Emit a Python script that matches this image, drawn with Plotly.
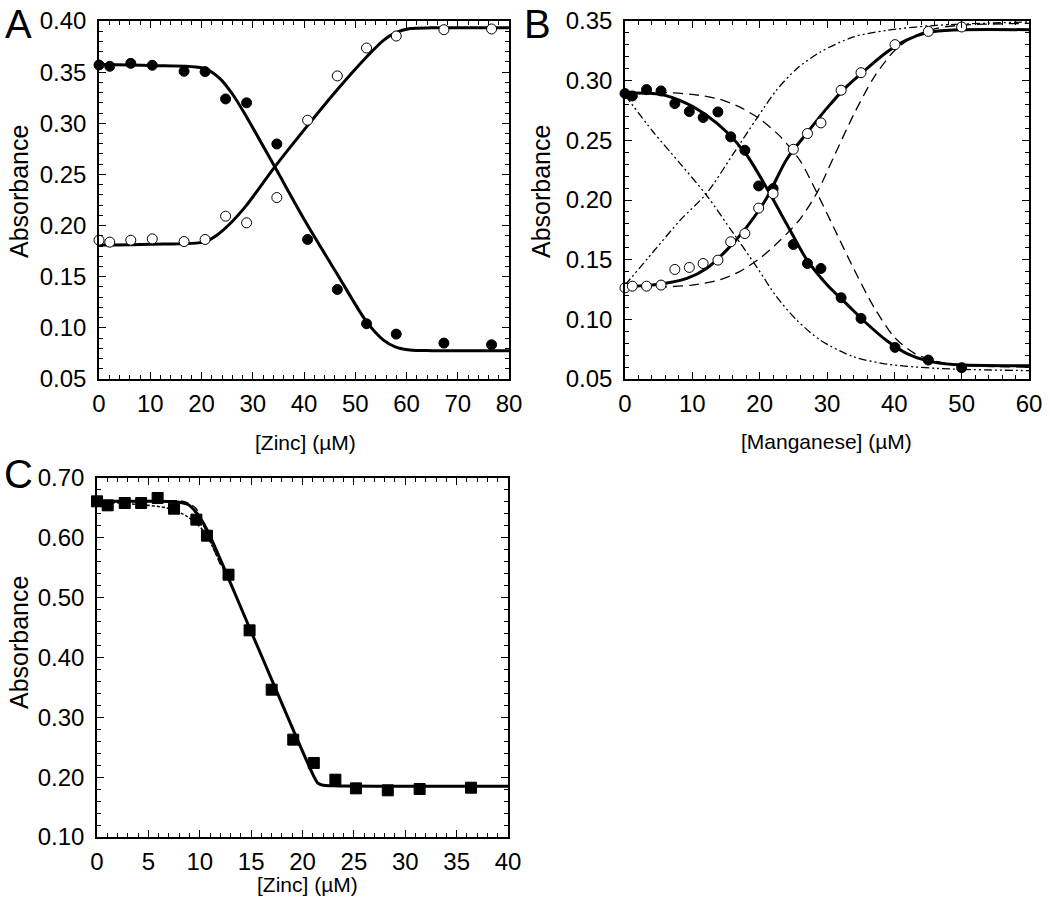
import plotly.graph_objects as go

# ---------------- Panel A : Zinc ----------------
a_x = [0, 2.1, 6.2, 10.4, 16.6, 20.7, 24.7, 28.8, 34.7, 40.7, 46.5, 52.2, 58.0, 67.3, 76.6]
a_filled = [0.357, 0.3557, 0.3586, 0.3567, 0.3508, 0.3505, 0.3238, 0.320, 0.2798, 0.1864,
            0.1375, 0.104, 0.0939, 0.0851, 0.0835]
a_open = [0.1857, 0.1838, 0.1857, 0.187, 0.1844, 0.1864, 0.2092, 0.2027, 0.2274, 0.303,
          0.3463, 0.3736, 0.3853, 0.3915, 0.3922]
a_fit_x = [0, 10, 20.7, 23.6, 26.2, 28.8, 34.3, 40.5, 46.4, 52.2, 55.5, 57.8, 60.7, 65, 80]
a_fit_down = [0.3574, 0.3565, 0.3535, 0.3437, 0.3274, 0.3062, 0.2574, 0.202, 0.1532, 0.106,
              0.088, 0.0815, 0.0783, 0.0777, 0.0776]
a_fit_up_x = [0, 10, 20.7, 23.0, 25.6, 28.8, 34.3, 40.5, 46.4, 52.2, 55.5, 57.8, 60.7, 65, 80]
a_fit_up = [0.1809, 0.1818, 0.1841, 0.1906, 0.202, 0.22, 0.2574, 0.2965, 0.3323, 0.3648,
            0.3811, 0.3883, 0.3926, 0.3933, 0.3935]

# ---------------- Panel B : Manganese ----------------
b_x = [0, 1.09, 3.2, 5.35, 7.4, 9.55, 11.6, 13.8, 15.7, 17.8, 19.85, 22.0, 25.0, 27.1, 29.1,
       32.1, 35.05, 40.1, 45.05, 50.0]
b_filled = [0.2892, 0.2872, 0.2925, 0.2914, 0.2808, 0.2741, 0.2691, 0.2738, 0.2529, 0.2417,
            0.2118, 0.2096, 0.1627, 0.1468, 0.1426, 0.1181, 0.1008, 0.0765, 0.0659, 0.0595]
b_open = [0.1264, 0.1278, 0.1278, 0.1287, 0.1418, 0.1435, 0.1468, 0.1496, 0.165, 0.1719,
          0.1932, 0.2054, 0.2425, 0.2557, 0.2646, 0.292, 0.3067, 0.3302, 0.3413, 0.345]
b_fit_x = [0, 5.2, 9.2, 12.1, 15.1, 18.1, 21.0, 24.0, 27.0, 30.0, 32.9, 35.9, 38.9, 41.8,
           45.05, 48.8, 60]
b_fit_down = [0.2897, 0.2886, 0.2808, 0.271, 0.257, 0.2375, 0.2105, 0.1800, 0.1500, 0.1290,
              0.1130, 0.0965, 0.0820, 0.0715, 0.0650, 0.0622, 0.0611]
b_fit_up = [0.1273, 0.1295, 0.1343, 0.1426, 0.158, 0.1775, 0.2012, 0.2340, 0.2560, 0.2770,
            0.2950, 0.3100, 0.3240, 0.3340, 0.3405, 0.3425, 0.3427]
b_dash_x = [0, 5, 10, 14, 17, 20, 23, 26, 28.5, 31, 34, 37, 40, 43, 46, 50, 60]
b_dash_down = [0.2906, 0.2903, 0.2885, 0.2845, 0.278, 0.268, 0.2535, 0.233, 0.206, 0.177,
               0.142, 0.110, 0.085, 0.0715, 0.065, 0.0615, 0.0600]
b_dash_up = [0.1267, 0.1270, 0.1287, 0.133, 0.140, 0.151, 0.166, 0.184, 0.206, 0.236,
             0.272, 0.303, 0.325, 0.3375, 0.3435, 0.3465, 0.3480]
b_dd_x = [0, 4.2, 8.2, 12.1, 16.1, 19.55, 22.5, 25.5, 29.0, 33.9, 38.9, 46.3, 60]
b_dd_up = [0.1287, 0.1566, 0.1831, 0.2054, 0.2389, 0.2682, 0.292, 0.31, 0.324, 0.3366,
           0.3422, 0.3464, 0.3492]
b_dd_down = [0.2878, 0.257, 0.2305, 0.204, 0.172, 0.144, 0.119, 0.0994, 0.0826, 0.0687,
             0.0625, 0.0589, 0.0570]

# ---------------- Panel C : Zinc ----------------
c_x = [0, 1.04, 2.7, 4.3, 5.9, 7.5, 9.67, 10.7, 12.8, 14.85, 17.0, 19.1, 21.1, 23.2, 25.2,
       28.3, 31.4, 36.4]
c_y = [0.661, 0.6543, 0.6582, 0.6582, 0.6666, 0.6487, 0.6304, 0.6036, 0.5384, 0.4454, 0.3462,
       0.2627, 0.2237, 0.1958, 0.1813, 0.178, 0.1802, 0.1824]
c_fit_x = [0, 5, 7.8, 8.9, 9.7, 10.7, 15.0, 21.1, 21.5, 21.9, 23, 30, 40]
c_fit_y = [0.661, 0.661, 0.6599, 0.6554, 0.6415, 0.6136, 0.4434, 0.2014, 0.1900, 0.1870,
           0.1855, 0.1850, 0.1850]
c_dot_x = [0, 2, 4.2, 6.8, 8.75, 10.4, 12.0, 13.0]
c_dot_y = [0.661, 0.6585, 0.6554, 0.6499, 0.636, 0.611, 0.558, 0.5245]
c_dash_x = [0, 5, 8.4, 9.6, 10.4, 12.0]
c_dash_y = [0.661, 0.661, 0.661, 0.6499, 0.6192, 0.5555]

W, H = 1050, 899
FONT = "Arial, Liberation Sans, sans-serif"


def dom_x(p0, p1):
    return [p0 / W, p1 / W]


def dom_y(p_top, p_bot):
    return [1 - p_bot / H, 1 - p_top / H]


fig = go.Figure()


def add_line(x, y, xa, ya, dash="solid", width=3):
    fig.add_trace(go.Scatter(x=x, y=y, mode="lines", xaxis=xa, yaxis=ya,
                             line=dict(color="black", width=width, dash=dash, shape="spline",
                                       smoothing=0.8),
                             showlegend=False, hoverinfo="skip", cliponaxis=True))


def add_pts(x, y, xa, ya, filled=True, symbol="circle", size=10):
    fig.add_trace(go.Scatter(x=x, y=y, mode="markers", xaxis=xa, yaxis=ya,
                             marker=dict(symbol=symbol, size=size,
                                         color="black" if filled else "white",
                                         line=dict(color="black", width=1)),
                             showlegend=False, cliponaxis=False))


# Panel A
add_line(a_fit_x, a_fit_down, "x", "y")
add_line(a_fit_up_x, a_fit_up, "x", "y")
add_pts(a_x, a_filled, "x", "y", True)
add_pts(a_x, a_open, "x", "y", False)

# Panel B
DD = "8px,3px,2px,3px,2px,3px"
add_line(b_dd_x, b_dd_down, "x2", "y2", dash=DD, width=1.3)
add_line(b_dd_x, b_dd_up, "x2", "y2", dash=DD, width=1.3)
add_line(b_dash_x, b_dash_down, "x2", "y2", dash="10px,6px", width=1.3)
add_line(b_dash_x, b_dash_up, "x2", "y2", dash="10px,6px", width=1.3)
add_line(b_fit_x, b_fit_down, "x2", "y2")
add_line(b_fit_x, b_fit_up, "x2", "y2")
add_pts(b_x, b_filled, "x2", "y2", True)
add_pts(b_x, b_open, "x2", "y2", False)

# Panel C
add_line(c_dot_x, c_dot_y, "x3", "y3", dash="3px,2px", width=1.5)
add_line(c_dash_x, c_dash_y, "x3", "y3", dash="8px,4px", width=1.3)
add_line(c_fit_x, c_fit_y, "x3", "y3")
add_pts(c_x, c_y, "x3", "y3", True, symbol="square", size=11)


def axis(rng, dtick, mdtick, dom, anchor, standoff, fmt=None):
    d = dict(range=rng, dtick=dtick, tick0=0, domain=dom, anchor=anchor,
             showline=True, linecolor="black", linewidth=1.5, mirror="allticks",
             ticks="inside", ticklen=7, tickwidth=1.2, tickcolor="black",
             showgrid=False, zeroline=False, ticklabelstandoff=standoff,
             tickfont=dict(family=FONT, size=24, color="black"),
             minor=dict(dtick=mdtick, tick0=0, ticks="inside", ticklen=4, tickwidth=1,
                        tickcolor="black", showgrid=False))
    if fmt:
        d["tickformat"] = fmt
    return d


layout = dict(
    width=W, height=H, margin=dict(l=0, r=0, t=0, b=0, autoexpand=False),
    paper_bgcolor="white", plot_bgcolor="white",
    xaxis=axis([0, 80], 10, 2, dom_x(99, 509), "y", 2),
    yaxis=axis([0.05, 0.40], 0.05, 0.01, dom_y(21, 379), "x", 6, ".2f"),
    xaxis2=axis([0, 60], 10, 2, dom_x(625, 1029), "y2", 2),
    yaxis2=axis([0.05, 0.35], 0.05, 0.01, dom_y(21, 379), "x2", 6, ".2f"),
    xaxis3=axis([0, 40], 5, 1, dom_x(97, 508), "y3", 2),
    yaxis3=axis([0.10, 0.70], 0.10, 0.02, dom_y(478, 837), "x3", 6, ".2f"),
)
fig.update_layout(**layout)


def text(s, px, py, size, angle=0, yanchor="middle"):
    fig.add_annotation(text=s, x=px / W, y=1 - py / H, xref="paper", yref="paper",
                       showarrow=False, textangle=angle, xanchor="center", yanchor=yanchor,
                       font=dict(family=FONT, size=size, color="black"))


text("A", 18, 0, 40, yanchor="top")
text("B", 537, 0, 40, yanchor="top")
text("C", 18, 450, 40, yanchor="top")
text("Absorbance", 19, 192, 25, -90)
text("Absorbance", 541, 192, 25, -90)
text("Absorbance", 19, 643, 25, -90)
text("[Zinc] (µM)", 305, 443, 21)
text("[Manganese] (µM)", 826, 441, 21)
text("[Zinc] (µM)", 307, 884, 21)

fig.write_html("out.html", config={"displayModeBar": False},
               post_script="document.body.style.margin='0px';document.body.style.padding='0px';")
